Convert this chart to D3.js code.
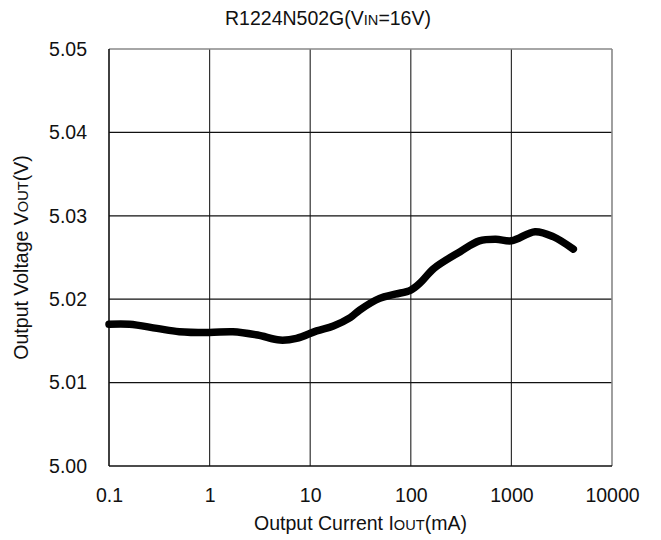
<!DOCTYPE html>
<html><head><meta charset="utf-8">
<script src="https://cdn.jsdelivr.net/npm/d3@7"></script>
<style>body{margin:0;background:#fff}svg{display:block}text{font-family:"Liberation Sans",Arial,sans-serif;fill:#111}</style>
</head><body>
<svg id="c" width="661" height="540"></svg>
<script>
const currents = [0.1, 0.16, 0.3, 0.5, 1, 1.7, 3, 5, 7.3, 11.6, 17, 25, 31, 49, 70, 100, 125, 170, 309, 480, 700, 1000, 1718, 2600, 4125];
const voltages = [5.0170, 5.0170, 5.0165, 5.0161, 5.0160, 5.0161, 5.0157, 5.0151, 5.0153, 5.0162, 5.0168, 5.0178, 5.0187, 5.0201, 5.0206, 5.0211, 5.0220, 5.0237, 5.0257, 5.0270, 5.0272, 5.0270, 5.0281, 5.0275, 5.0260];
const xTicks = [0.1, 1, 10, 100, 1000, 10000];
const xTickLabels = ["0.1", "1", "10", "100", "1000", "10000"];
const yTicks = [5.00, 5.01, 5.02, 5.03, 5.04, 5.05];

const svg = d3.select("#c");
const L = 109, R = 612, T = 49, B = 466;
const x = d3.scaleLog().domain([0.1, 10000]).range([L, R]);
const y = d3.scaleLinear().domain([5.00, 5.05]).range([B, T]);
const FS = 19.5;
const FF = '"Liberation Sans",Arial,sans-serif';

// grid
svg.append("g").selectAll("line").data(xTicks.slice(1, -1)).join("line")
  .attr("x1", d => x(d)).attr("x2", d => x(d)).attr("y1", T).attr("y2", B)
  .attr("stroke", "#333").attr("stroke-width", 1.2);
svg.append("g").selectAll("line").data(yTicks.slice(1, -1)).join("line")
  .attr("x1", L).attr("x2", R).attr("y1", d => y(d)).attr("y2", d => y(d))
  .attr("stroke", "#111").attr("stroke-width", 1.2);
// frame
svg.append("line").attr("x1", L).attr("x2", R).attr("y1", T).attr("y2", T).attr("stroke", "#888").attr("stroke-width", 1.6);
svg.append("line").attr("x1", R).attr("x2", R).attr("y1", T).attr("y2", B).attr("stroke", "#888").attr("stroke-width", 1.6);
svg.append("line").attr("x1", L).attr("x2", L).attr("y1", T).attr("y2", B).attr("stroke", "#111").attr("stroke-width", 1.6);
svg.append("line").attr("x1", L).attr("x2", R).attr("y1", B).attr("y2", B).attr("stroke", "#111").attr("stroke-width", 1.6);

// axes labels via d3 axes
const xa = svg.append("g").attr("transform", `translate(0,${B})`)
  .call(d3.axisBottom(x).tickValues(xTicks).tickFormat((d, i) => xTickLabels[i]).tickSize(0).tickPadding(22));
xa.select(".domain").remove();
xa.selectAll("text").attr("font-size", FS).style("font-family", FF).attr("fill", "#111");
const ya = svg.append("g").attr("transform", `translate(${L},0)`)
  .call(d3.axisLeft(y).tickValues(yTicks).tickFormat(d3.format(".2f")).tickSize(0).tickPadding(22));
ya.select(".domain").remove();
ya.selectAll("text").attr("font-size", FS).style("font-family", FF).attr("fill", "#111");

// curve
const line = d3.line().x((d, i) => x(currents[i])).y(d => y(d)).curve(d3.curveCatmullRom.alpha(0.5));
svg.append("path").datum(voltages).attr("d", line).attr("fill", "none")
  .attr("stroke", "#000").attr("stroke-width", 7.5).attr("stroke-linecap", "round").attr("stroke-linejoin", "round");

// title
const t = svg.append("text").attr("x", 328).attr("y", 24.5).attr("text-anchor", "middle").attr("font-size", FS);
t.append("tspan").text("R1224N502G(V");
t.append("tspan").attr("font-size", FS * 0.75).text("IN");
t.append("tspan").text("=16V)");

// x title
const xt = svg.append("text").attr("x", (L + R) / 2).attr("y", 530).attr("text-anchor", "middle").attr("font-size", FS);
xt.append("tspan").text("Output Current I");
xt.append("tspan").attr("font-size", FS * 0.75).text("OUT");
xt.append("tspan").text("(mA)");

// y title
const yt = svg.append("text").attr("transform", `translate(28,${(T + B) / 2}) rotate(-90)`).attr("text-anchor", "middle").attr("font-size", FS);
yt.append("tspan").text("Output Voltage V");
yt.append("tspan").attr("font-size", FS * 0.75).text("OUT");
yt.append("tspan").text("(V)");
</script>
</body></html>
